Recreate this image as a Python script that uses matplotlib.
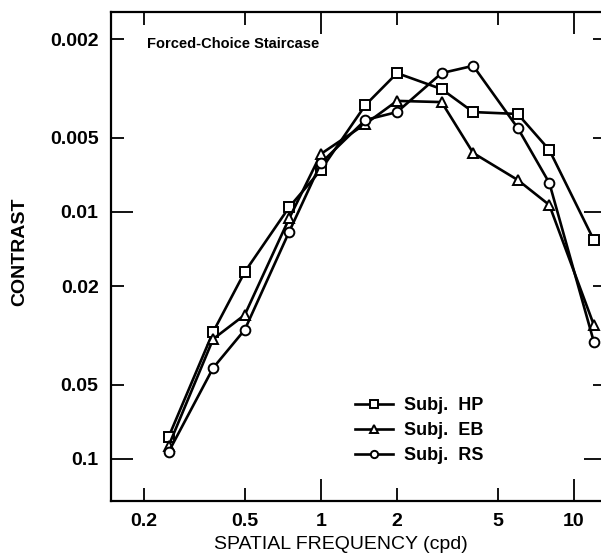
import matplotlib
matplotlib.use('Agg')
import matplotlib.pyplot as plt

# Datos (cpd, contraste umbral)
freq = [0.25, 0.375, 0.5, 0.75, 1, 1.5, 2, 3, 4, 6, 8, 12]
hp = [0.0815, 0.0306, 0.0175, 0.00955, 0.00676, 0.00369, 0.00274, 0.00318,
      0.00394, 0.00401, 0.00561, 0.0130]
eb = [0.0886, 0.0327, 0.0261, 0.0106, 0.00582, 0.00440, 0.00355, 0.00359,
      0.00577, 0.00742, 0.00937, 0.0287]
rs = [0.0937, 0.0428, 0.0300, 0.0120, 0.00634, 0.00424, 0.00394, 0.00274,
      0.00256, 0.00457, 0.00763, 0.0336]

x_major = [1, 10]
x_minor = [0.2, 0.5, 2, 5]
y_major = [0.01, 0.1]
y_minor = [0.002, 0.005, 0.02, 0.05]

fig = plt.figure(figsize=(6.01, 5.56), dpi=100)
ax = fig.add_axes([111 / 601, 55 / 556, 495 / 601, 489 / 556])

font = ['Liberation Sans', 'DejaVu Sans']

style = dict(color='black', lw=1.9, markersize=7, markerfacecolor='white',
             markeredgewidth=1.4, clip_on=False)
ax.plot(freq, hp, marker='s', label='Subj.  HP', **style)
ax.plot(freq, eb, marker='^', label='Subj.  EB', **style)
ax.plot(freq, rs, marker='o', label='Subj.  RS', **style)

ax.set_xscale('log')
ax.set_yscale('log')
ax.set_xlim(0.148, 13.4)
ax.set_ylim(0.148, 0.00155)

ax.set_xticks(x_major)
ax.set_xticklabels([f'{v:g}' for v in x_major])
ax.set_xticks(x_minor, minor=True)
ax.set_xticklabels([f'{v:g}' for v in x_minor], minor=True)
ax.set_yticks(y_major)
ax.set_yticklabels([f'{v:g}' for v in y_major])
ax.set_yticks(y_minor, minor=True)
ax.set_yticklabels([f'{v:g}' for v in y_minor], minor=True)

ax.tick_params(which='both', direction='in', top=True, right=True,
               width=1.3, pad=9, labelsize=14)
ax.tick_params(which='major', length=16)
ax.tick_params(which='minor', length=9.5)
for lab in ax.get_xticklabels(which='both') + ax.get_yticklabels(which='both'):
    lab.set_family(font)
    lab.set_fontweight('bold')

for sp in ax.spines.values():
    sp.set_linewidth(1.6)

ax.text(0.072, 0.935, 'Forced-Choice Staircase', transform=ax.transAxes,
        family=font, fontweight='bold', fontsize=10.5, va='center', ha='left')

ax.set_ylabel('CONTRAST', family=font, fontsize=14, fontweight='bold')
ax.yaxis.set_label_coords(-0.168, 0.51)
ax.set_xlabel('SPATIAL FREQUENCY (cpd)', family=font, fontsize=14)
ax.xaxis.set_label_coords(0.465, -0.072)

leg = ax.legend(loc='lower left', bbox_to_anchor=(0.46, 0.042), frameon=False,
                handlelength=2.1, handletextpad=0.6, labelspacing=0.45,
                prop={'family': font, 'weight': 'bold', 'size': 13},
                markerscale=0.75)

plt.savefig('out.png', dpi=100)
plt.close()
